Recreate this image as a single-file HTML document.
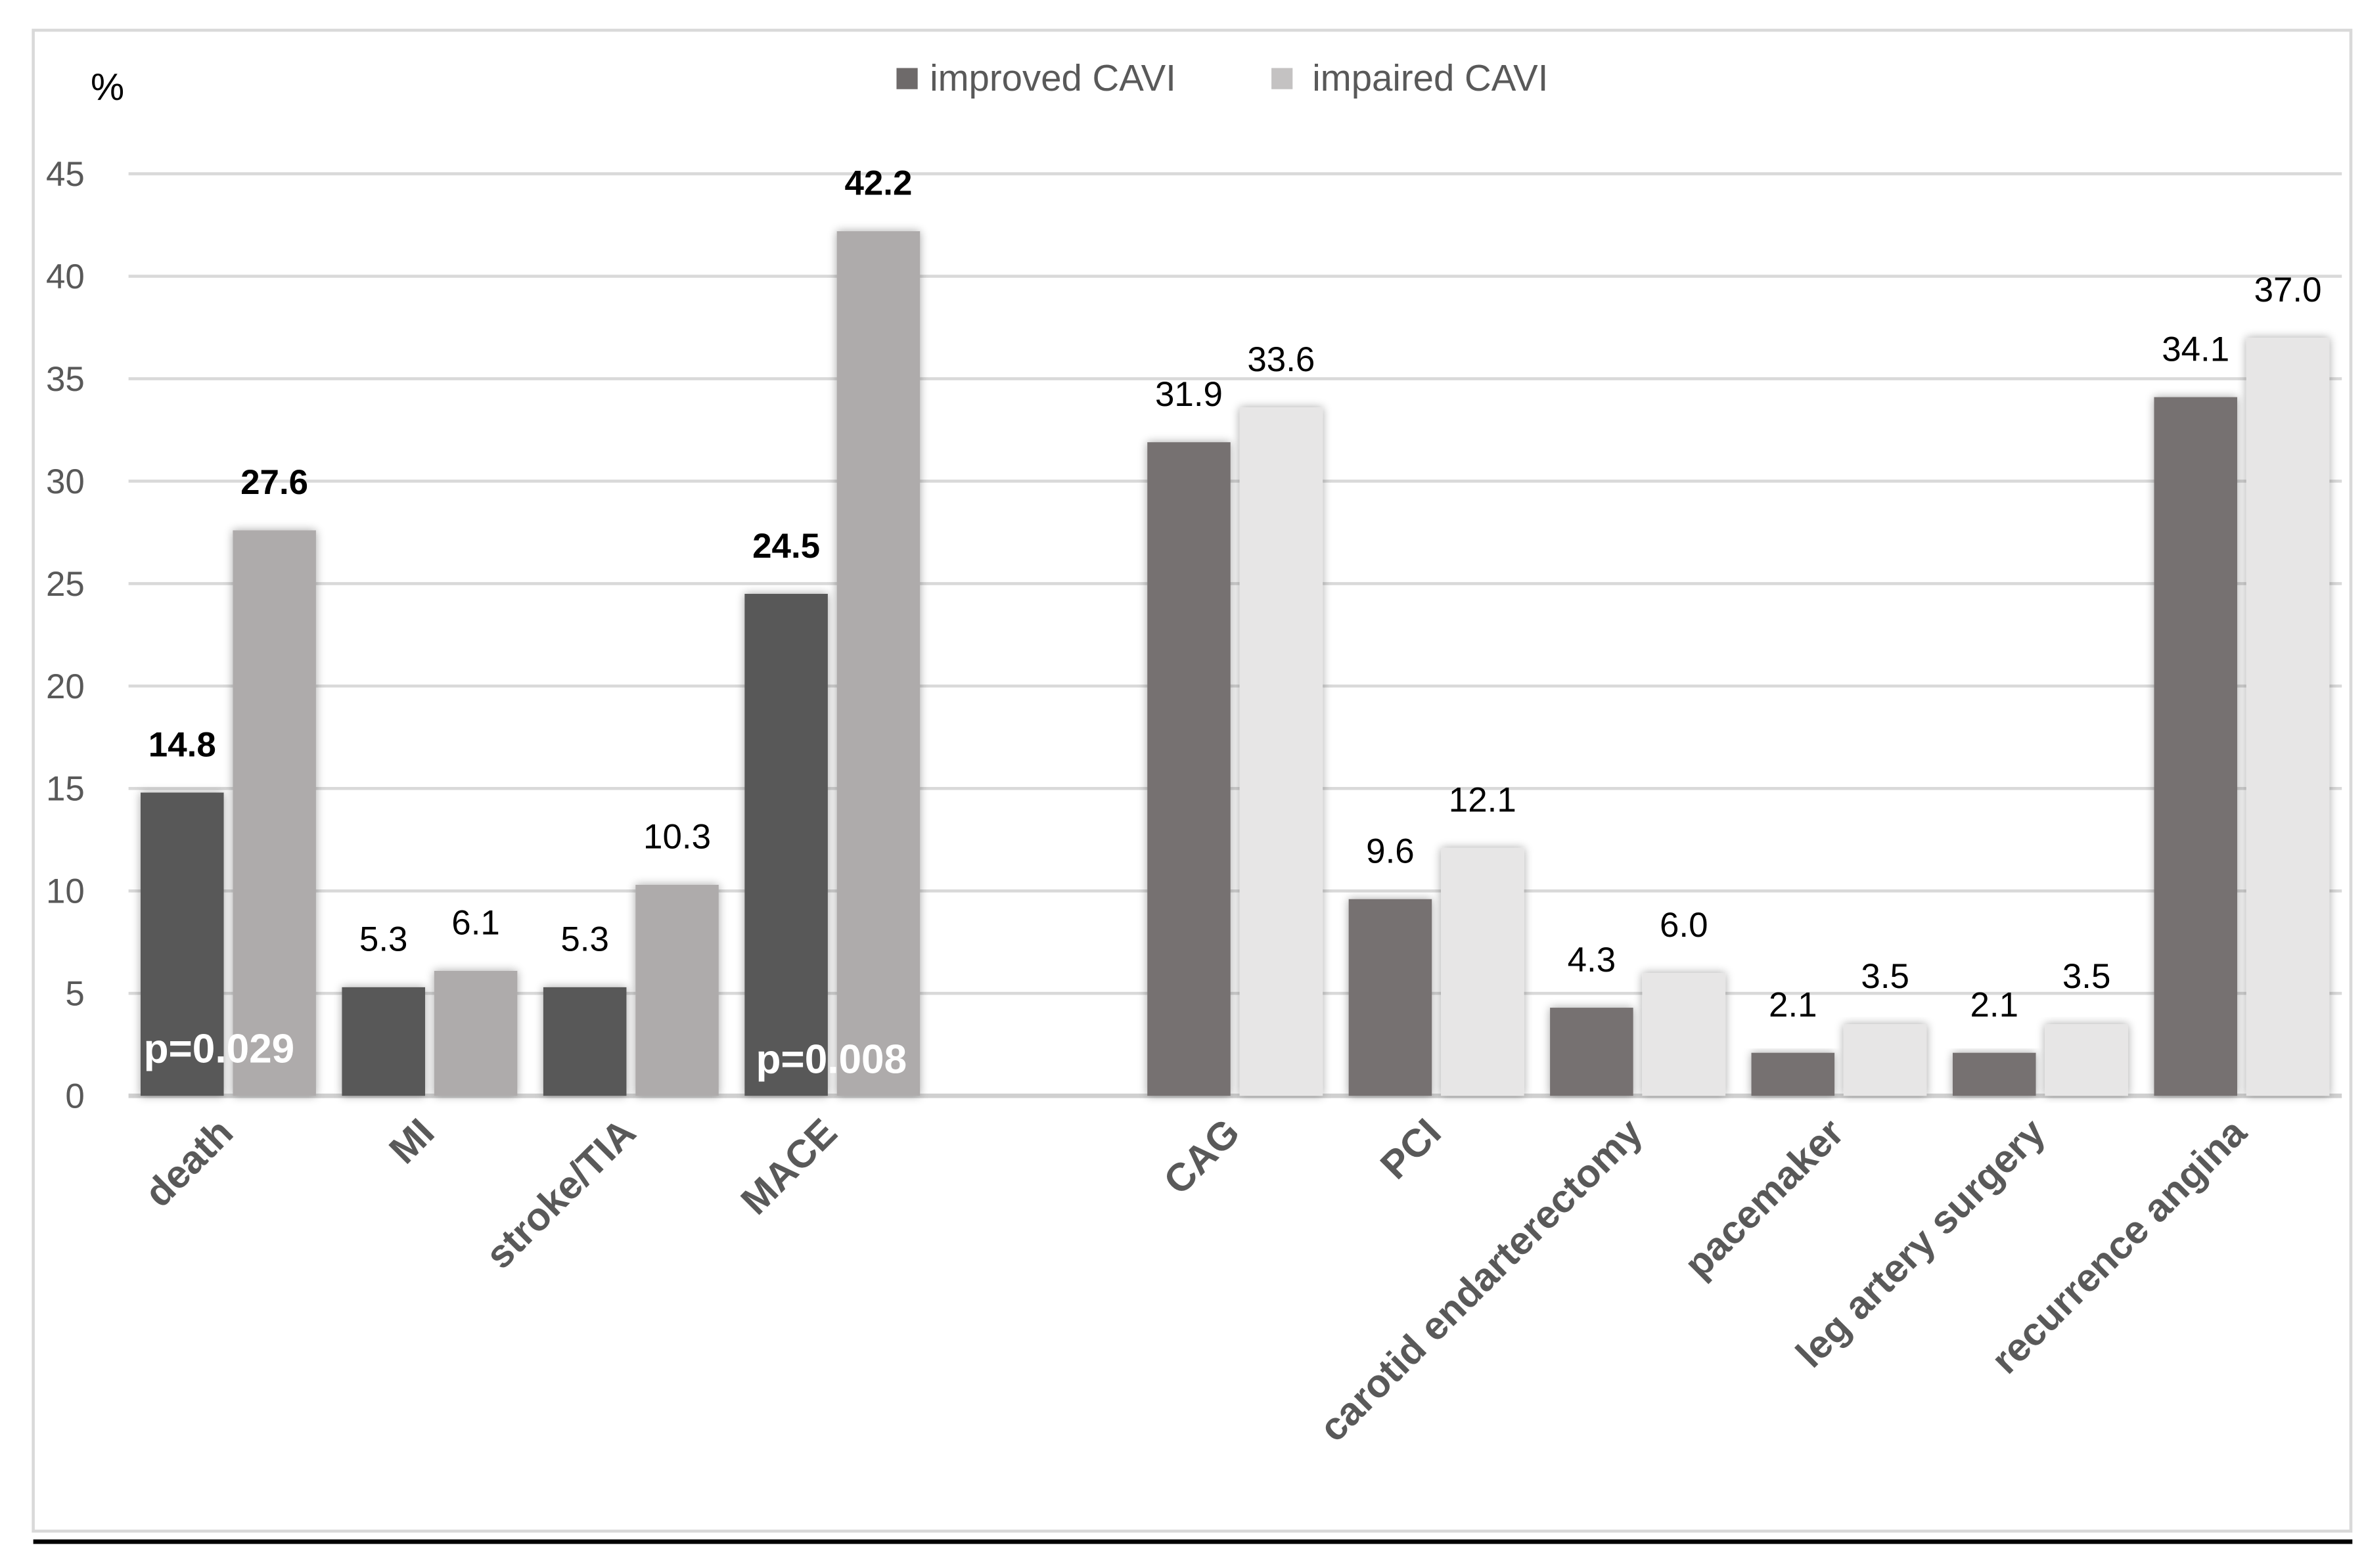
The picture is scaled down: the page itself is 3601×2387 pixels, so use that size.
<!DOCTYPE html>
<html><head><meta charset="utf-8"><style>
html,body{margin:0;padding:0;background:#fff;}
svg{display:block;}
text{font-family:"Liberation Sans",sans-serif;}
</style></head><body>
<svg id="chart" width="3601" height="2387" viewBox="0 0 1565 1037.4" xmlns="http://www.w3.org/2000/svg">
<defs><filter id="sh" x="-20%" y="-10%" width="140%" height="120%"><feGaussianBlur in="SourceAlpha" stdDeviation="3"/><feOffset dx="0" dy="0"/><feComponentTransfer><feFuncA type="linear" slope="0.35"/></feComponentTransfer><feMerge><feMergeNode/><feMergeNode in="SourceGraphic"/></feMerge></filter></defs>
<rect x="22" y="20" width="1533" height="993" fill="#fff" stroke="#d9d9d9" stroke-width="2"/>
<line x1="22" y1="1020" x2="1556" y2="1020" stroke="#000" stroke-width="3"/>
<text x="60" y="66" font-size="25" fill="#000">%</text>
<g>
<rect x="593" y="45" width="14" height="14" fill="#6e6a6a"/>
<text x="615" y="60" font-size="24.5" fill="#595959">improved CAVI</text>
<rect x="841" y="45" width="14" height="14" fill="#c4c2c2"/>
<text x="868" y="60" font-size="24.5" fill="#595959">impaired CAVI</text>
</g>
<g id="grid"></g><g id="bars"></g><g id="labels"></g>
<text x="95" y="703" font-size="27" font-weight="bold" fill="#fff">p=0.029</text>
<text x="500" y="710" font-size="27" font-weight="bold" fill="#fff">p=0.008</text>
</svg>
<script>
const categories=["death","MI","stroke/TIA","MACE","","CAG","PCI","carotid endarterectomy","pacemaker","leg artery surgery","recurrence angina"];
const improved=[14.8,5.3,5.3,24.5,null,31.9,9.6,4.3,2.1,2.1,34.1];
const impaired=[27.6,6.1,10.3,42.2,null,33.6,12.1,6.0,3.5,3.5,37.0];
const improvedLabels=["14.8","5.3","5.3","24.5","","31.9","9.6","4.3","2.1","2.1","34.1"];
const impairedLabels=["27.6","6.1","10.3","42.2","","33.6","12.1","6.0","3.5","3.5","37.0"];
const boldLabels=[true,false,false,true,false,false,false,false,false,false,false];
const yTicks=[0,5,10,15,20,25,30,35,40,45];
const NS="http://www.w3.org/2000/svg";
const X0=85,X1=1550,Y0=725,Y45=115,YMAX=45;
const slot=(X1-X0)/categories.length;
function y(v){return Y0-(v/YMAX)*(Y0-Y45);}
function xs(i){return X0+slot*i;}
function mk(t,a,p){const e=document.createElementNS(NS,t);for(const k in a)e.setAttribute(k,a[k]);p.appendChild(e);return e;}
const grid=document.getElementById('grid'),bars=document.getElementById('bars'),labels=document.getElementById('labels');
yTicks.forEach(t=>{
  const l=mk('line',{x1:X0,x2:1549,y1:y(t),y2:y(t),stroke:t===0?'#d0d0d0':'#d9d9d9','stroke-width':t===0?3:2},grid);
  
  
  const tx=mk('text',{x:56,y:y(t)+8,'text-anchor':'end','font-size':23,fill:'#595959'},grid);
  tx.textContent=t;
  
  
});
categories.forEach((c,i)=>{
  if(improved[i]===null)return;
  const left=i<4;
  const cd=left?'#595959':'#767171', cl=left?'#aeabab':'#e7e6e6';
  const bx=xs(i)+8,bw=55;
  const r1=mk('rect',{x:bx,y:y(improved[i]),width:bw,height:Y0-y(improved[i]),fill:cd,filter:'url(#sh)'},bars);
  
  
  const r2=mk('rect',{x:bx+61,y:y(impaired[i]),width:bw,height:Y0-y(impaired[i]),fill:cl,filter:'url(#sh)'},bars);
  
  
  const fw=boldLabels[i]?'bold':'normal';
  const t1=mk('text',{x:bx+bw/2,y:y(improved[i])-24,'text-anchor':'middle','font-size':23,'font-weight':fw,fill:'#000'},labels);
  t1.textContent=improvedLabels[i];
  
  
  const t2=mk('text',{x:bx+61+bw/2,y:y(impaired[i])-24,'text-anchor':'middle','font-size':23,'font-weight':fw,fill:'#000'},labels);
  t2.textContent=impairedLabels[i];
  
  
  const cx=xs(i)+slot/2+4, cy=Y0+26;
  const xl=mk('text',{x:cx,y:cy,'text-anchor':'end','font-size':26,'font-weight':'bold',fill:'#595959',transform:`rotate(-45 ${cx} ${cy})`},labels);
  xl.textContent=c;
  
  
});
</script>
</body></html>
